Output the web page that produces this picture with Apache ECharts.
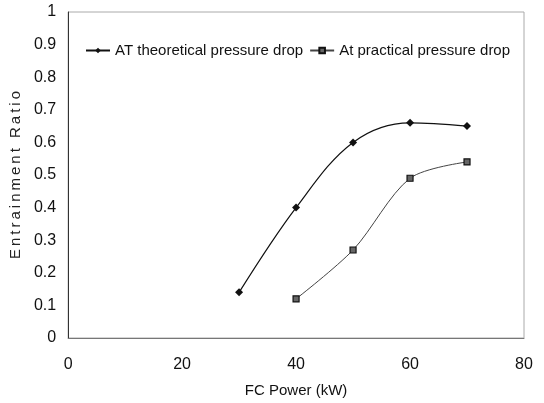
<!DOCTYPE html>
<html>
<head>
<meta charset="utf-8">
<script src="https://cdn.jsdelivr.net/npm/echarts@6/dist/echarts.min.js"></script>
<style>
  html, body { margin: 0; padding: 0; background: #fff; }
  #chart { width: 544px; height: 403px; }
</style>
</head>
<body>
<div id="chart"></div>
<script>
// FC power (kW) and entrainment ratio
var theoreticalX = [30, 40, 50, 60, 70];
var theoreticalY = [0.14, 0.40, 0.60, 0.66, 0.65];
var practicalX = [40, 50, 60, 70];
var practicalY = [0.12, 0.27, 0.49, 0.54];

function pairs(xs, ys) {
  return xs.map(function (x, i) { return [x, ys[i]]; });
}

var chart = echarts.init(document.getElementById('chart'));
var font = 'Liberation Sans, Arial, sans-serif';
// y-axis title is letter-spaced in the figure, use thin spaces
var yName = 'Entrainment Ratio'.split('').join('\u2009');

var option = {
  animation: false,
  backgroundColor: '#fff',
  grid: {
    left: 67, right: 20, top: 12, bottom: 64,
    show: true, borderColor: '#aaa', borderWidth: 1
  },
  legend: {
    top: 38, left: 80,
    itemWidth: 24, itemHeight: 7, itemGap: 6,
    textStyle: { fontFamily: font, fontSize: 15, color: '#111' },
    data: ['AT theoretical pressure drop', 'At practical pressure drop']
  },
  xAxis: {
    type: 'value', min: 0, max: 80, interval: 20,
    name: 'FC Power (kW)', nameLocation: 'middle', nameGap: 45,
    nameTextStyle: { fontFamily: font, fontSize: 15, color: '#111' },
    axisLine: { show: true, lineStyle: { color: '#777', width: 1 } },
    axisTick: { show: false },
    splitLine: { show: false },
    axisLabel: { fontFamily: font, fontSize: 16, color: '#111', margin: 19 }
  },
  yAxis: {
    type: 'value', min: 0, max: 1, interval: 0.1,
    name: yName, nameLocation: 'middle', nameGap: 40,
    nameTextStyle: { fontFamily: font, fontSize: 15, color: '#222' },
    axisLine: { show: true, lineStyle: { color: '#333', width: 1 } },
    axisTick: { show: false },
    splitLine: { show: false },
    axisLabel: { fontFamily: font, fontSize: 16, color: '#111', margin: 12 }
  },
  series: [
    {
      name: 'AT theoretical pressure drop',
      type: 'line', smooth: 0.35,
      data: pairs(theoreticalX, theoreticalY),
      symbol: 'diamond', symbolSize: 8,
      itemStyle: { color: '#111' },
      lineStyle: { color: '#111', width: 1.2 }
    },
    {
      name: 'At practical pressure drop',
      type: 'line', smooth: 0.3,
      data: pairs(practicalX, practicalY),
      symbol: 'rect', symbolSize: 6,
      itemStyle: { color: '#666', borderColor: '#111', borderWidth: 1.2 },
      lineStyle: { color: '#444', width: 1 }
    }
  ]
};
chart.setOption(option);
</script>
</body>
</html>
